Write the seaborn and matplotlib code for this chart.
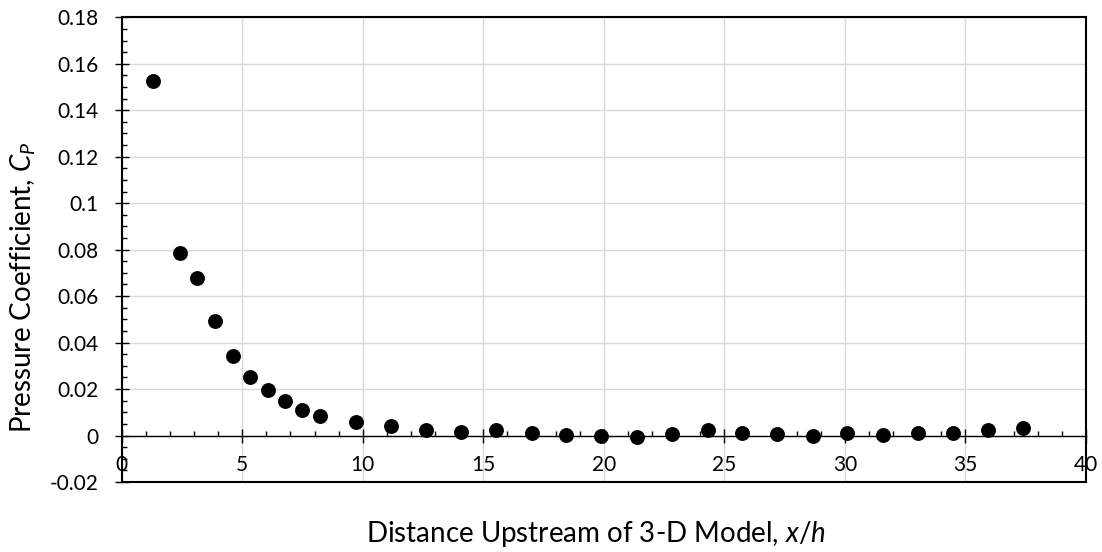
#Pressure coefficient upstream of the 3-D model

#Importing libraries
import pandas as pd
import matplotlib.pyplot as plt
import seaborn as sns
from matplotlib.ticker import MultipleLocator, FuncFormatter

#Values
x_over_h = [1.31, 2.41, 3.14, 3.88, 4.61, 5.33, 6.06, 6.78, 7.50, 8.24,
            9.71, 11.16, 12.62, 14.07, 15.54, 17.00, 18.45, 19.90, 21.38, 22.84,
            24.30, 25.74, 27.20, 28.66, 30.10, 31.57, 33.02, 34.47, 35.95, 37.40]
cp = [0.1526, 0.0787, 0.0679, 0.0492, 0.0342, 0.0254, 0.0198, 0.0148, 0.0112, 0.0083,
      0.0060, 0.0039, 0.0022, 0.0014, 0.0022, 0.0010, 0.0004, 0.0000, -0.0007, 0.0006,
      0.0022, 0.0010, 0.0006, -0.0003, 0.0012, 0.0003, 0.0009, 0.0010, 0.0023, 0.0034]

df = pd.DataFrame({'x_over_h': x_over_h, 'cp': cp})

sns.set_style('white')
plt.rcParams['font.family'] = ['Lato', 'DejaVu Sans']
plt.rcParams['mathtext.fontset'] = 'custom'
plt.rcParams['mathtext.rm'] = 'Lato'
plt.rcParams['mathtext.it'] = 'Lato:italic'

fig = plt.figure(figsize=(11.02, 5.52), dpi=100)
ax = fig.add_axes([0.1104, 0.1268, 0.8751, 0.8419])

sns.scatterplot(data=df, x='x_over_h', y='cp', color='black', s=115,
                linewidth=0, ax=ax, zorder=3)

ax.set_xlim(0, 40)
ax.set_ylim(-0.02, 0.18)
ax.xaxis.set_major_locator(MultipleLocator(5))
ax.xaxis.set_minor_locator(MultipleLocator(1))
ax.yaxis.set_major_locator(MultipleLocator(0.02))
ax.yaxis.set_minor_locator(MultipleLocator(0.005))
ax.yaxis.set_major_formatter(FuncFormatter(lambda v, p: '{:g}'.format(round(v, 3))))

ax.grid(which='major', color='#d9d9d9', lw=1)
ax.set_axisbelow(True)

#x axis crosses at zero, frame around the plot area
ax.spines['bottom'].set_position(('data', 0))
ax.spines['bottom'].set_linewidth(1)
for s in ['left', 'top', 'right']:
    ax.spines[s].set_linewidth(1.5)
    ax.spines[s].set_color('black')
ax.spines['bottom'].set_color('black')
ax.plot([0, 1], [0, 0], transform=ax.transAxes, color='black', lw=1.5, clip_on=False)

ax.tick_params(which='both', bottom=True, left=True, top=False, right=False,
               color='black', labelcolor='black')
ax.tick_params(which='major', direction='inout', length=9.5, width=1, labelsize=15)
ax.tick_params(which='minor', direction='in', length=3.6, width=1)
ax.tick_params(axis='x', which='major', pad=9)
ax.tick_params(axis='y', which='major', pad=12)

ax.set_xlabel('Distance Upstream of 3-D Model, $x/h$', fontsize=20, color='black')
ax.set_ylabel('Pressure Coefficient, $C_P$', fontsize=20, color='black')
ax.xaxis.set_label_coords(0.492, -0.08)
ax.yaxis.set_label_coords(-0.087, 0.42)

plt.savefig('out.png', dpi=100)
